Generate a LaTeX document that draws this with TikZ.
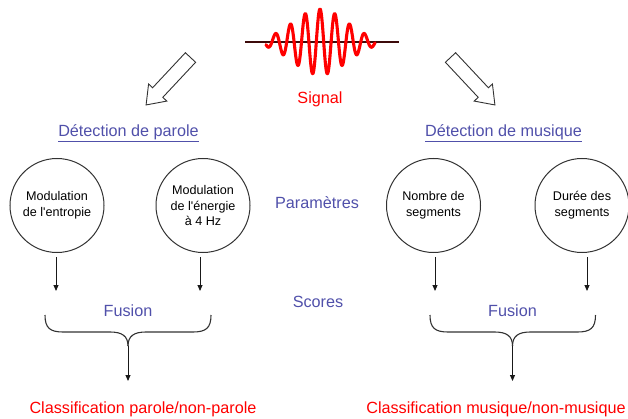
\documentclass[tikz,border=0pt]{standalone}
\usepackage{fontspec}
\setmainfont{Liberation Sans}
\usetikzlibrary{arrows.meta}
\definecolor{labelblue}{RGB}{80,80,170}
\definecolor{sigred}{RGB}{255,0,0}
\definecolor{axisdark}{RGB}{60,10,10}
\definecolor{outline}{RGB}{50,50,50}
\tikzset{
  lbl/.style={anchor=base, inner sep=0pt, font=\fontsize{16.2}{19}\selectfont},
  bluelbl/.style={lbl, text=labelblue},
  redlbl/.style={lbl, text=sigred},
  param/.style={circle, draw=outline, line width=1pt, minimum size=94pt, inner sep=0pt,
    align=center, font=\fontsize{12.6}{15.8}\selectfont},
  conn/.style={draw=black!90, line width=0.9pt, -{Triangle[length=6pt,width=5pt]}},
  brace/.style={draw=outline, line width=1.1pt},
  hollow/.style={draw=outline, line width=0.9pt, fill=white, line join=miter},
}
\begin{document}
\begin{tikzpicture}[x=1pt, y=-1pt]
\useasboundingbox (0,0) rectangle (628,419);

% signal: time axis and wave packet (t measured from the packet centre)
\coordinate (axL) at (245,42);
\coordinate (axR) at (399,42);
\draw[axisdark, line width=1.4pt] (axL) -- (axR);
\draw[sigred, line width=3.1pt, line cap=round, line join=round]
  plot[domain=-54:55, samples=320, smooth]
  ({320+\x}, {42 - 33*exp(-(\x/38)^2)*cos(\x/14.8*360)});
\node[redlbl] (signal) at (320,103.5) {Signal};

% hollow arrows towards the two detectors
\coordinate (tailP) at (190.5,57.5);
\coordinate (tailM) at (450.5,57.5);
\draw[hollow, shift={(tailP)}, rotate=226.9]
  (0,7) -- (48,7) -- (48,12.5) -- (65,0) -- (48,-12.5) -- (48,-7) -- (0,-7) -- cycle;
\draw[hollow, shift={(tailM)}, rotate=-46.9]
  (0,7) -- (48,7) -- (48,12.5) -- (65,0) -- (48,-12.5) -- (48,-7) -- (0,-7) -- cycle;

% detector titles
\node[bluelbl] (detP) at (128.5,136.5) {\underline{Détection de parole}};
\node[bluelbl] (detM) at (503.5,136.5) {\underline{Détection de musique}};

% row labels
\node[bluelbl] (param) at (317,208.3) {Paramètres};
\node[bluelbl] (scores) at (318,307.7) {Scores};

% parameter circles
\node[param] (c1) at (57,205.5) {Modulation\\de l\textquotesingle entropie};
\node[param] (c2) at (203,205.5) {Modulation\\de l\textquotesingle énergie\\à 4 Hz};
\node[param] (c3) at (433.5,205.5) {Nombre de\\segments};
\node[param] (c4) at (582,205.5) {Durée des\\segments};

% arrow ends above the braces
\coordinate (s1) at (56,291);
\coordinate (s2) at (200,291);
\coordinate (s3) at (435,291);
\coordinate (s4) at (587,291);
\draw[conn] ([xshift=-1pt,yshift=-4pt]c1.south) -- (s1);
\draw[conn] ([xshift=-3pt,yshift=-4pt]c2.south) -- (s2);
\draw[conn] ([xshift=1.5pt,yshift=-4pt]c3.south) -- (s3);
\draw[conn] ([xshift=5pt,yshift=-4pt]c4.south) -- (s4);

% fusion labels
\node[bluelbl] (fus1) at (128,316.5) {Fusion};
\node[bluelbl] (fus2) at (512.5,316.5) {Fusion};

% braces
\coordinate (b1) at (128,346);
\coordinate (b2) at (512.5,346);
\draw[brace] (45,315) .. controls (45,328) and (50,332) .. (63,332) -- (110,332)
  .. controls (122,332) and (128,336) .. (b1);
\draw[brace] (211,315) .. controls (211,328) and (206,332) .. (193,332) -- (146,332)
  .. controls (134,332) and (128,336) .. (b1);
\draw[brace] (430,315) .. controls (430,328) and (435,332) .. (448,332) -- (494.5,332)
  .. controls (506.5,332) and (512.5,336) .. (b2);
\draw[brace] (595.5,315) .. controls (595.5,328) and (590.5,332) .. (577.5,332) -- (530.5,332)
  .. controls (518.5,332) and (512.5,336) .. (b2);

% classification outputs
\coordinate (e1) at (128,381);
\coordinate (e2) at (512.5,381);
\draw[conn] (b1) -- (e1);
\draw[conn] (b2) -- (e2);
\node[redlbl] (cls1) at (143,413) {Classification parole/non-parole};
\node[redlbl] (cls2) at (496,413) {Classification musique/non-musique};
\end{tikzpicture}
\end{document}
